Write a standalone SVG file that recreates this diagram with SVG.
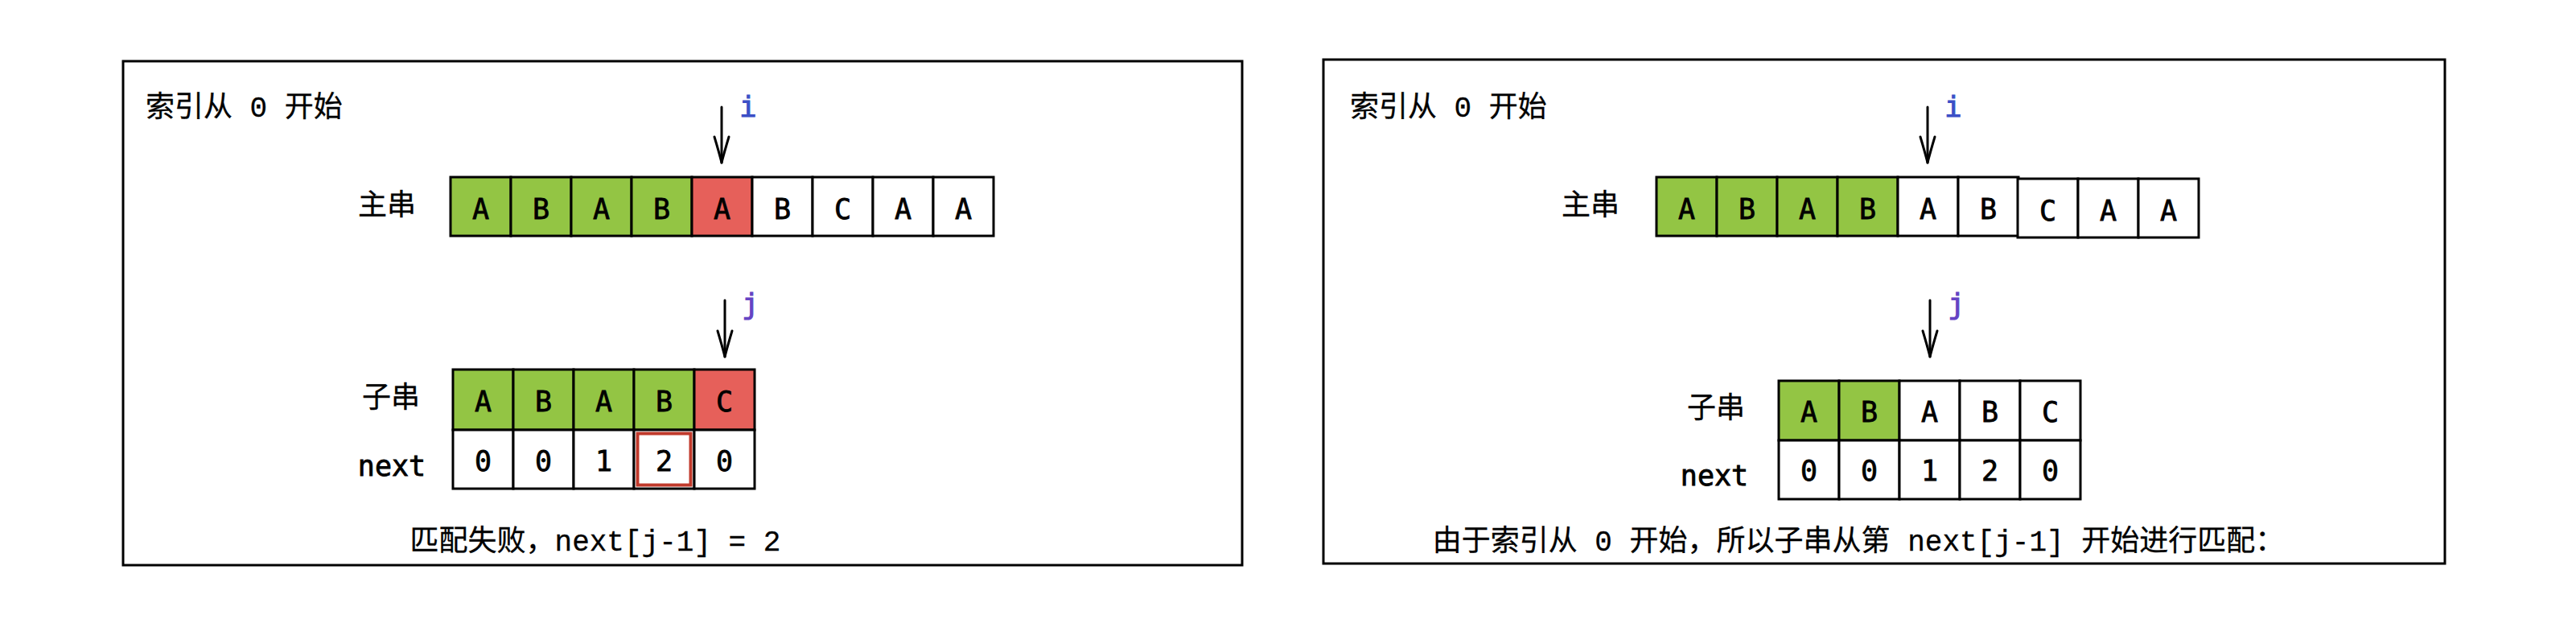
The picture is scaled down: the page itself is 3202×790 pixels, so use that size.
<svg xmlns="http://www.w3.org/2000/svg" width="3202" height="790" viewBox="0 0 3202 790">
<style>
.frame{fill:#ffffff;stroke:#000000;stroke-width:3}
.cell{stroke:#000000;stroke-width:3}
.g{fill:#93c544}
.r{fill:#e6605a}
.w{fill:#ffffff}
.ch{font-family:"DejaVu Sans Mono","Liberation Mono",monospace;font-size:35px;fill:#000;text-anchor:middle;stroke:#000;stroke-width:0.8}
.lbl{font-family:"Liberation Mono","Noto Sans CJK SC",monospace;font-size:36px;fill:#000;stroke:#000;stroke-width:0.3}
.lblc{font-family:"Liberation Mono","Noto Sans CJK SC",monospace;font-size:36px;fill:#000;text-anchor:middle;stroke:#000;stroke-width:0.3}
.nx{font-family:"DejaVu Sans Mono","Liberation Mono",monospace;font-size:35px;fill:#000;text-anchor:middle;stroke:#000;stroke-width:0.8}
.pi{font-family:"DejaVu Sans Mono","Liberation Mono",monospace;font-size:36px;fill:#3c4fc6;stroke:#3c4fc6;stroke-width:1}
.pj{font-family:"DejaVu Sans Mono","Liberation Mono",monospace;font-size:36px;fill:#6543c4;stroke:#6543c4;stroke-width:1}
.arr{stroke:#000;stroke-width:3;fill:none;stroke-linecap:round;marker-end:url(#ah)}
</style>
<defs>
<marker id="ah" markerUnits="userSpaceOnUse" viewBox="-36 -12 40 24" refX="0" refY="0" markerWidth="40" markerHeight="24" orient="auto" overflow="visible">
<path d="M -32,-9 Q -12,-3 0,0 M -32,9 Q -12,3 0,0" fill="none" stroke="#000" stroke-width="3" stroke-linecap="round"/>
</marker>
</defs>

<g id="panel-left">
<rect class="frame" x="153" y="76" width="1391" height="626"/>
<text class="lbl" x="181" y="145">索引从 0 开始</text>
</g>

<g id="left-main">
<text class="lblc" x="481" y="267">主串</text>
<rect class="cell g" x="560" y="220" width="75" height="73"/>
<rect class="cell g" x="635" y="220" width="75" height="73"/>
<rect class="cell g" x="710" y="220" width="75" height="73"/>
<rect class="cell g" x="785" y="220" width="75" height="73"/>
<rect class="cell r" x="860" y="220" width="75" height="73"/>
<rect class="cell w" x="935" y="220" width="75" height="73"/>
<rect class="cell w" x="1010" y="220" width="75" height="73"/>
<rect class="cell w" x="1085" y="220" width="75" height="73"/>
<rect class="cell w" x="1160" y="220" width="75" height="73"/>
<text class="ch" x="597.5" y="272">A</text>
<text class="ch" x="672.5" y="272">B</text>
<text class="ch" x="747.5" y="272">A</text>
<text class="ch" x="822.5" y="272">B</text>
<text class="ch" x="897.5" y="272">A</text>
<text class="ch" x="972.5" y="272">B</text>
<text class="ch" x="1047.5" y="272">C</text>
<text class="ch" x="1122.5" y="272">A</text>
<text class="ch" x="1197.5" y="272">A</text>
</g>

<g id="left-i">
<text class="pi" x="919" y="145">i</text>
</g>

<g id="left-sub">
<text class="lblc" x="486" y="506">子串</text>
<rect class="cell g" x="563" y="459" width="75" height="75"/>
<rect class="cell g" x="638" y="459" width="75" height="75"/>
<rect class="cell g" x="713" y="459" width="75" height="75"/>
<rect class="cell g" x="788" y="459" width="75" height="75"/>
<rect class="cell r" x="863" y="459" width="75" height="75"/>
<text class="ch" x="600.5" y="511">A</text>
<text class="ch" x="675.5" y="511">B</text>
<text class="ch" x="750.5" y="511">A</text>
<text class="ch" x="825.5" y="511">B</text>
<text class="ch" x="900.5" y="511">C</text>
</g>

<g id="left-next">
<text class="nx" x="487" y="591">next</text>
<rect class="cell w" x="563" y="534" width="75" height="73"/>
<rect class="cell w" x="638" y="534" width="75" height="73"/>
<rect class="cell w" x="713" y="534" width="75" height="73"/>
<rect class="cell w" x="788" y="534" width="75" height="73"/>
<rect class="cell w" x="863" y="534" width="75" height="73"/>
<rect x="792.5" y="538.5" width="66" height="64" fill="none" stroke="#c0392b" stroke-width="4"/>
<text class="ch" x="600.5" y="585">0</text>
<text class="ch" x="675.5" y="585">0</text>
<text class="ch" x="750.5" y="585">1</text>
<text class="ch" x="825.5" y="585">2</text>
<text class="ch" x="900.5" y="585">0</text>
</g>

<g id="left-j">
<text class="pj" x="922" y="390">j</text>
</g>

<g id="left-caption">
<text class="lblc" x="740" y="684">匹配失败，next[j-1] = 2</text>
</g>

<g id="panel-right">
<rect class="frame" x="1645" y="74" width="1394" height="626"/>
<text class="lbl" x="1678" y="145">索引从 0 开始</text>
</g>

<g id="right-main">
<text class="lblc" x="1977" y="267">主串</text>
<rect class="cell g" x="2059" y="220" width="75" height="73"/>
<rect class="cell g" x="2134" y="220" width="75" height="73"/>
<rect class="cell g" x="2209" y="220" width="75" height="73"/>
<rect class="cell g" x="2284" y="220" width="75" height="73"/>
<rect class="cell w" x="2359" y="220" width="75" height="73"/>
<rect class="cell w" x="2434" y="220" width="75" height="73"/>
<rect class="cell w" x="2508" y="222" width="75" height="73"/>
<rect class="cell w" x="2583" y="222" width="75" height="73"/>
<rect class="cell w" x="2658" y="222" width="75" height="73"/>
<text class="ch" x="2096.5" y="272">A</text>
<text class="ch" x="2171.5" y="272">B</text>
<text class="ch" x="2246.5" y="272">A</text>
<text class="ch" x="2321.5" y="272">B</text>
<text class="ch" x="2396.5" y="272">A</text>
<text class="ch" x="2471.5" y="272">B</text>
<text class="ch" x="2545.5" y="274">C</text>
<text class="ch" x="2620.5" y="274">A</text>
<text class="ch" x="2695.5" y="274">A</text>
</g>

<g id="right-i">
<text class="pi" x="2417" y="145">i</text>
</g>

<g id="right-sub">
<text class="lblc" x="2133" y="519">子串</text>
<rect class="cell g" x="2211" y="473" width="75" height="74"/>
<rect class="cell g" x="2286" y="473" width="75" height="74"/>
<rect class="cell w" x="2361" y="473" width="75" height="74"/>
<rect class="cell w" x="2436" y="473" width="75" height="74"/>
<rect class="cell w" x="2511" y="473" width="75" height="74"/>
<text class="ch" x="2248.5" y="524">A</text>
<text class="ch" x="2323.5" y="524">B</text>
<text class="ch" x="2398.5" y="524">A</text>
<text class="ch" x="2473.5" y="524">B</text>
<text class="ch" x="2548.5" y="524">C</text>
</g>

<g id="right-next">
<text class="nx" x="2131" y="603">next</text>
<rect class="cell w" x="2211" y="547" width="75" height="73"/>
<rect class="cell w" x="2286" y="547" width="75" height="73"/>
<rect class="cell w" x="2361" y="547" width="75" height="73"/>
<rect class="cell w" x="2436" y="547" width="75" height="73"/>
<rect class="cell w" x="2511" y="547" width="75" height="73"/>
<text class="ch" x="2248.5" y="597">0</text>
<text class="ch" x="2323.5" y="597">0</text>
<text class="ch" x="2398.5" y="597">1</text>
<text class="ch" x="2473.5" y="597">2</text>
<text class="ch" x="2548.5" y="597">0</text>
</g>

<g id="right-j">
<text class="pj" x="2421" y="390">j</text>
</g>

<g id="right-caption">
<text class="lblc" x="2310" y="684">由于索引从 0 开始，所以子串从第 next[j-1] 开始进行匹配：</text>
</g>

<g id="connectors">
<line class="arr" x1="897" y1="133" x2="897" y2="202"/>
<line class="arr" x1="901" y1="373" x2="901" y2="443"/>
<line class="arr" x1="2396" y1="133" x2="2396" y2="202"/>
<line class="arr" x1="2399" y1="373" x2="2399" y2="443"/>
</g>
</svg>
